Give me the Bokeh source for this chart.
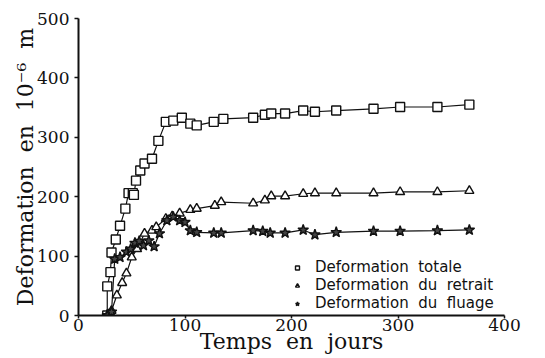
from bokeh.plotting import figure
from bokeh.models import Legend, LegendItem, Range1d, FixedTicker
from bokeh.embed import file_html
from bokeh.resources import INLINE

# Deformation totale (squares)
tot_days = [27, 27, 30, 31, 35, 39, 44, 47, 51, 52, 54, 58, 62, 69, 75, 82, 89, 97,
            105, 111, 127, 136, 164, 175, 181, 194, 211, 222, 242, 277, 302, 337, 367]
tot_vals = [0, 49, 73, 106, 128, 151, 180, 206, 206, 203, 227, 244, 256, 264, 294, 326, 328, 333,
            323, 320, 326, 331, 333, 338, 340, 340, 345, 343, 345, 348, 351, 351, 355]

# Deformation du retrait (triangles)
ret_days = [28, 31, 36, 41, 45, 50, 55, 62, 69, 73, 82, 88, 95, 105, 111, 128, 134,
            164, 175, 181, 194, 211, 222, 242, 277, 302, 337, 367]
ret_vals = [2, 8, 34, 55, 71, 98, 112, 138, 143, 149, 163, 167, 172, 178, 180, 185, 191,
            189, 194, 201, 201, 205, 206, 206, 206, 208, 208, 210]

# Deformation du fluage (stars)
flu_days = [27, 31, 34, 39, 45, 49, 53, 57, 61, 66, 71, 76, 83, 89, 95, 100, 105, 111,
            127, 134, 164, 173, 180, 194, 211, 222, 242, 277, 302, 337, 367]
flu_vals = [0, 6, 95, 98, 107, 112, 122, 125, 118, 126, 116, 138, 160, 166, 160, 157, 143, 140,
            139, 139, 143, 142, 139, 139, 144, 136, 140, 142, 142, 143, 144]

x_ticks = [0, 100, 200, 300, 400]
y_ticks = [0, 100, 200, 300, 400, 500]
S = "\u00a0 "
labels = ["Deformation" + S + "totale", "Deformation" + S + "du" + S + "retrait",
          "Deformation" + S + "du" + S + "fluage"]

p = figure(width=545, height=358, output_backend="svg", toolbar_location=None,
           x_range=Range1d(0, 400), y_range=Range1d(0, 500),
           min_border_left=78, min_border_right=41, min_border_top=18, min_border_bottom=43)
p.outline_line_color = None
p.xgrid.visible = False
p.ygrid.visible = False
p.background_fill_color = "white"

for ax in (p.xaxis[0], p.yaxis[0]):
    ax.axis_line_width = 2
    ax.axis_line_color = "#111111"
    ax.major_tick_line_color = "#111111"
    ax.major_tick_line_width = 1.5
    ax.major_tick_in = 0
    ax.minor_tick_line_color = None
    ax.major_label_text_font = "DejaVu Serif"
    ax.major_label_text_font_size = "17px"
    ax.major_label_text_color = "#111111"
    ax.axis_label_text_font = "DejaVu Serif"
    ax.axis_label_text_font_size = "22px"
    ax.axis_label_text_font_style = "normal"
    ax.axis_label_text_color = "#111111"

p.xaxis.ticker = FixedTicker(ticks=x_ticks)
p.yaxis.ticker = FixedTicker(ticks=y_ticks)
p.xaxis.major_tick_out = 3
p.xaxis.major_label_standoff = 0
p.xaxis.axis_label_standoff = -5
p.yaxis.major_tick_out = 4
p.yaxis.major_label_standoff = 5
p.yaxis.axis_label_standoff = -4
p.xaxis.axis_label = "Temps" + S + "en" + S + "jours"
p.yaxis.axis_label = "Deformation" + S + "en" + S + "10\u207b\u2076" + S + "m"

lc = "#111111"
p.line(tot_days, tot_vals, line_color=lc, line_width=1.2)
p.line(ret_days, ret_vals, line_color=lc, line_width=1.2)
p.line(flu_days, flu_vals, line_color=lc, line_width=1.2)

r_tot = p.scatter(tot_days, tot_vals, marker="square", size=9, line_color=lc,
                  fill_color="white", line_width=1.4)
r_ret = p.scatter(ret_days, ret_vals, marker="triangle", size=9, line_color=lc,
                  fill_color="white", line_width=1.4)
r_flu = p.scatter(flu_days, flu_vals, marker="star", size=11, line_color=lc,
                  fill_color="#444444", line_width=1.4)

legend = Legend(items=[LegendItem(label=labels[0], renderers=[r_tot]),
                       LegendItem(label=labels[1], renderers=[r_ret]),
                       LegendItem(label=labels[2], renderers=[r_flu])],
                location=(214, 3), padding=0, margin=0, spacing=0,
                glyph_width=10, glyph_height=17, label_height=17, label_standoff=13,
                label_text_font="DejaVu Sans", label_text_font_size="15px",
                label_text_color="#111111",
                border_line_color=None, background_fill_alpha=0)
p.add_layout(legend, "center")

open("out.html", "w").write(file_html(p, INLINE))
